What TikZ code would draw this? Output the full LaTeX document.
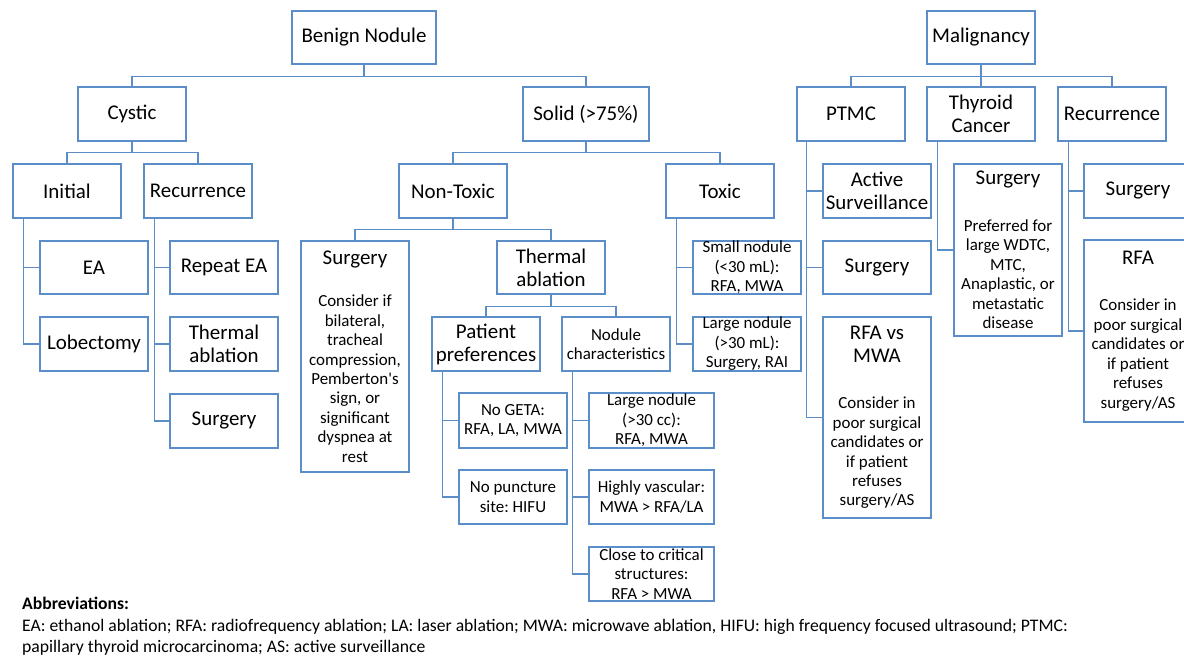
\documentclass[tikz,border=0pt]{standalone}
\usepackage{fontspec}
\setmainfont{Carlito}
\frenchspacing
\definecolor{boxblue}{RGB}{91,141,200}
\newcommand{\fbig}{\fontsize{21}{23}\selectfont}
\newcommand{\fsml}{\fontsize{17}{19.5}\selectfont}
\newcommand{\fabb}{\fontsize{17.7}{21}\selectfont}
\tikzset{
  bx/.style={draw=boxblue, line width=1.3bp, rectangle, inner sep=0pt,
    minimum width=108bp, minimum height=54bp, text width=108bp, align=flush center, font=\fbig},
  sbx/.style={bx, font=\fsml},
  conn/.style={draw=boxblue, line width=1.3bp},
}
\begin{document}
\begin{tikzpicture}[x=1bp, y=-1bp]
\clip (0,0) rectangle (1184,657);
\fill[white] (0,0) rectangle (1184,657);
% level 0
\node[bx, minimum width=144bp, text width=144bp, minimum height=53bp] (benign) at (364,37.5) {Benign Nodule};
\node[bx, minimum height=53bp] (malig) at (981,37.5) {Malignancy};
% level 1
\node[bx] (cystic) at (132,114) {Cystic};
\node[bx, minimum width=126bp, text width=126bp] (solid) at (586,114) {Solid (>75\%)};
\node[bx] (ptmc) at (851,114) {PTMC};
\node[bx] (tc) at (981,114) {Thyroid\\Cancer};
\node[bx] (rec2) at (1112,114) {Recurrence};
% level 2
\node[bx] (initial) at (67,191) {Initial};
\node[bx] (rec1) at (198,191) {Recurrence};
\node[bx] (nontoxic) at (453,191) {Non-Toxic};
\node[bx] (toxic) at (720,191) {Toxic};
\node[bx] (active) at (877,191) {Active\\Surveillance};
\node[bx, minimum height=172bp] (tcsurg) at (1008,250)
  {{\fbig Surgery\par}\vspace{27bp}{\fsml Preferred for\\ large WDTC,\\ MTC,\\ Anaplastic, or\\ metastatic\\ disease\par}};
\node[bx] (rsurg) at (1138,191) {Surgery};
% level 3
\node[bx, minimum height=53bp] (ea) at (94,267.5) {EA};
\node[bx, minimum height=53bp] (repea) at (224,267.5) {Repeat EA};
\node[bx, minimum height=231bp] (ntsurg) at (355,356.5)
  {{\fbig Surgery\par}\vspace{23bp}{\fsml Consider if\\ bilateral,\\ tracheal\\ compression,\\ Pemberton\textquotesingle s\\ sign, or\\ significant\\ dyspnea at\\ rest\par}};
\node[bx, minimum height=53bp] (thab) at (551,267.5) {Thermal\\ablation};
\node[sbx, minimum height=53bp] (small) at (747,267.5) {Small nodule\\(<30 mL):\\RFA, MWA};
\node[bx, minimum height=53bp] (ptsurg) at (877,267.5) {Surgery};
\node[bx, minimum height=182bp] (rfa) at (1138,331)
  {{\fbig RFA\par}\vspace{27bp}{\fsml Consider in\\ poor surgical\\ candidates or\\ if patient\\ refuses\\ surgery/AS\par}};
% level 4
\node[bx] (lob) at (94,344) {Lobectomy};
\node[bx] (thab2) at (224,344) {Thermal\\ablation};
\node[bx] (pat) at (486,344) {Patient\\preferences};
\node[sbx] (nod) at (616,344) {Nodule\\characteristics};
\node[sbx] (large) at (747,344) {Large nodule\\(>30 mL):\\Surgery, RAI};
\node[bx, minimum height=201bp] (rfamwa) at (877,417.5)
  {{\fbig RFA vs\\ MWA\par}\vspace{27bp}{\fsml Consider in\\ poor surgical\\ candidates or\\ if patient\\ refuses\\ surgery/AS\par}};
% level 5
\node[bx] (surg1) at (224,421) {Surgery};
\node[sbx, minimum height=55bp] (nogeta) at (513,420.5) {No GETA:\\RFA, LA, MWA};
\node[sbx, minimum width=125bp, text width=125bp, minimum height=55bp] (largecc) at (651.5,420.5) {Large nodule\\(>30 cc):\\RFA, MWA};
% level 6
\node[sbx] (nopunct) at (513,497) {No puncture\\site: HIFU};
\node[sbx, minimum width=125bp, text width=125bp] (vasc) at (651.5,497) {Highly vascular:\\MWA > RFA/LA};
% level 7
\node[sbx, minimum width=125bp, text width=125bp] (close) at (651.5,574) {Close to critical\\structures:\\RFA > MWA};

% tree connectors
\draw[conn] (benign.south) -- ++(0,12) -| (cystic.north);
\draw[conn] (benign.south) -- ++(0,12) -| (solid.north);
\draw[conn] (malig.south) -- ++(0,12) -| (ptmc.north);
\draw[conn] (malig.south) -- (tc.north);
\draw[conn] (malig.south) -- ++(0,12) -| (rec2.north);
\draw[conn] (cystic.south) -- ++(0,11) -| (initial.north);
\draw[conn] (cystic.south) -- ++(0,11) -| (rec1.north);
\draw[conn] (solid.south) -- ++(0,11) -| (nontoxic.north);
\draw[conn] (solid.south) -- ++(0,11) -| (toxic.north);
\draw[conn] (nontoxic.south) -- ++(0,11) -| (ntsurg.north);
\draw[conn] (nontoxic.south) -- ++(0,11) -| (thab.north);
\draw[conn] (thab.south) -- ++(0,12) -| (pat.north);
\draw[conn] (thab.south) -- ++(0,12) -| (nod.north);
% side connectors
\draw[conn] ([xshift=11bp]initial.south west) |- (ea.west);
\draw[conn] ([xshift=11bp]initial.south west) |- (lob.west);
\draw[conn] ([xshift=11bp]rec1.south west) |- (repea.west);
\draw[conn] ([xshift=11bp]rec1.south west) |- (thab2.west);
\draw[conn] ([xshift=11bp]rec1.south west) |- (surg1.west);
\draw[conn] ([xshift=11bp]toxic.south west) |- (small.west);
\draw[conn] ([xshift=11bp]toxic.south west) |- (large.west);
\draw[conn] ([xshift=11bp]pat.south west) |- (nogeta.west);
\draw[conn] ([xshift=11bp]pat.south west) |- (nopunct.west);
\draw[conn] ([xshift=11bp]nod.south west) |- (largecc.west);
\draw[conn] ([xshift=11bp]nod.south west) |- (vasc.west);
\draw[conn] ([xshift=11bp]nod.south west) |- (close.west);
\draw[conn] ([xshift=10bp]ptmc.south west) |- (active.west);
\draw[conn] ([xshift=10bp]ptmc.south west) |- (ptsurg.west);
\draw[conn] ([xshift=10bp]ptmc.south west) |- (rfamwa.west);
\draw[conn] ([xshift=11bp]tc.south west) |- (tcsurg.west);
\draw[conn] ([xshift=11bp]rec2.south west) |- (rsurg.west);
\draw[conn] ([xshift=11bp]rec2.south west) |- (rfa.west);

% abbreviations
\node[anchor=base west, inner sep=0pt, font=\fabb\bfseries] (abbh) at (22,609.5) {Abbreviations:};
\node[anchor=base west, inner sep=0pt, font=\fabb] (abb1) at (22,631) {EA: ethanol ablation; RFA: radiofrequency ablation; LA: laser ablation; MWA: microwave ablation, HIFU: high frequency focused ultrasound; PTMC:};
\node[anchor=base west, inner sep=0pt, font=\fabb] (abb2) at (22,652) {papillary thyroid microcarcinoma; AS: active surveillance};
\end{tikzpicture}
\end{document}
